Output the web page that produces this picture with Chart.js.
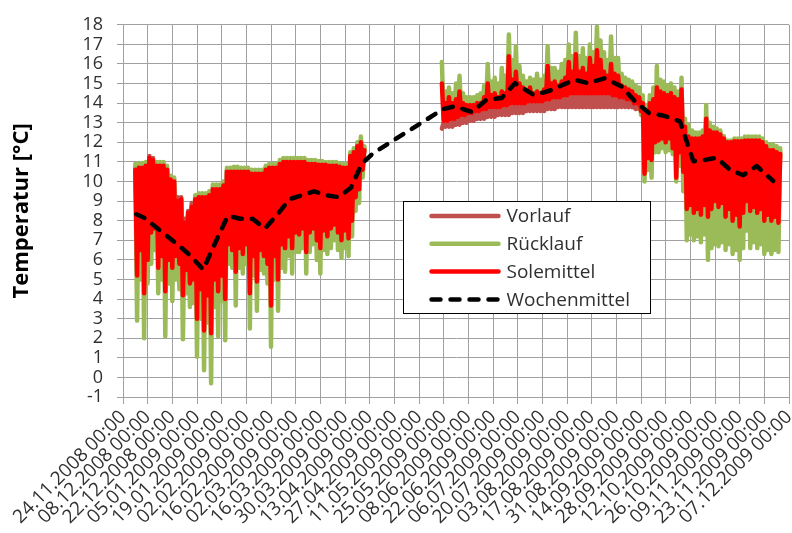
<!DOCTYPE html>
<html>
<head>
<meta charset="utf-8">
<script src="https://cdn.jsdelivr.net/npm/chart.js@4.4.1/dist/chart.umd.min.js"></script>
<style>
  html, body { margin: 0; padding: 0; background: #ffffff; }
  canvas { display: block; }
</style>
</head>
<body>
<canvas id="chart" width="792" height="533"></canvas>
<script>
// Zeitachse: Tag 0 = 24.11.2008 00:00, Achsenteilung alle 14 Tage
const startDatum = Date.UTC(2008, 10, 24);
const achseMaxTag = 378;
const tickAbstandTage = 14;

// Tageswerte (Hoch / Tief im Wechsel)
const schrittTage = 1;
const winterStartTag = 7;    // 01.12.2008
const sommerStartTag = 181;  // 24.05.2009
const lueckeTag = 159;       // keine Messdaten April/Mai 2009

// Heizperiode 2008/09 (Tag 7 bis 137)
const vorlaufWinter = [
  10.7, 7.0, 10.8, 8.0, 10.8, 6.4, 10.9, 7.7, 11.3, 8.8,
  11.2, 8.8, 10.9, 7.2, 10.9, 7.7, 10.9, 6.5, 10.7, 7.5,
  10.2, 7.2, 10.1, 7.6, 9.2, 7.3, 9.2, 6.3, 8.1, 6.9,
  8.5, 6.3, 8.9, 6.5, 9.2, 4.9, 9.3, 6.0, 9.3, 4.4,
  9.3, 5.8, 9.4, 4.7, 9.7, 6.6, 9.7, 6.4, 9.7, 6.7,
  9.9, 6.0, 10.6, 8.0, 10.6, 7.7, 10.6, 7.1, 10.6, 7.8,
  10.6, 7.5, 10.6, 8.0, 10.6, 6.1, 10.5, 7.4, 10.5, 6.4,
  10.5, 7.7, 10.5, 7.4, 10.7, 7.1, 10.8, 5.8, 10.8, 7.4,
  10.8, 6.6, 11.0, 8.0, 11.1, 7.8, 11.1, 8.3, 11.1, 7.9,
  11.1, 8.5, 11.1, 8.2, 11.1, 8.6, 11.1, 7.5, 11.0, 8.4,
  11.0, 8.4, 11.0, 8.0, 10.9, 7.9, 10.9, 8.5, 10.9, 8.1,
  10.9, 8.6, 10.9, 8.6, 10.9, 8.3, 10.8, 7.9, 10.8, 8.4,
  10.8, 8.0, 11.4, 8.8, 11.6, 9.9, 11.9, 10.3, 12.1, 11.0,
  11.7
];
const ruecklaufWinter = [
  10.9, 2.9, 10.95, 5.0, 10.95, 2.0, 11.0, 4.8, 10.6, 5.8,
  10.9, 6.5, 11.0, 4.3, 11.0, 5.0, 11.0, 2.1, 10.8, 4.8,
  10.3, 3.9, 10.2, 5.0, 8.9, 4.5, 9.0, 1.95, 7.7, 4.3,
  8.3, 3.6, 8.5, 3.8, 9.3, 1.05, 9.4, 3.0, 9.4, 0.37,
  9.4, 2.8, 9.5, -0.3, 9.85, 3.6, 9.85, 2.1, 9.85, 3.9,
  10.0, 1.9, 10.7, 5.8, 10.7, 5.6, 10.75, 3.67, 10.75, 5.6,
  10.7, 5.3, 10.7, 5.8, 10.7, 2.5, 10.6, 5.2, 10.6, 3.4,
  10.6, 5.5, 10.6, 5.3, 10.8, 4.8, 10.9, 1.56, 10.9, 5.0,
  10.9, 3.4, 11.1, 5.6, 11.2, 5.4, 11.2, 6.2, 11.2, 5.3,
  11.2, 6.4, 11.2, 6.4, 11.2, 6.6, 11.2, 5.3, 11.1, 6.4,
  11.1, 6.8, 11.1, 6.0, 11.05, 5.3, 11.05, 6.5, 11.0, 6.3,
  11.0, 6.6, 11.0, 7.0, 11.0, 6.5, 10.95, 6.1, 10.9, 6.6,
  10.9, 6.2, 11.5, 7.2, 11.7, 8.5, 12.0, 8.9, 12.3, 10.2,
  11.8
];
const solemittelWinter = [
  10.6, 5.2, 10.7, 6.5, 10.7, 4.3, 10.8, 6.0, 11.2, 7.4,
  11.1, 7.6, 10.8, 5.6, 10.8, 6.2, 10.8, 4.4, 10.6, 6.0,
  10.1, 5.6, 10.0, 6.2, 9.0, 5.8, 9.1, 4.2, 7.9, 5.5,
  8.4, 4.8, 8.7, 5.0, 9.1, 3.0, 9.2, 4.5, 9.2, 2.4,
  9.2, 4.2, 9.3, 2.25, 9.6, 5.0, 9.6, 4.4, 9.6, 5.2,
  9.8, 4.0, 10.5, 6.8, 10.5, 6.5, 10.5, 5.4, 10.5, 6.6,
  10.5, 6.3, 10.5, 6.8, 10.5, 4.3, 10.4, 6.2, 10.4, 4.9,
  10.4, 6.5, 10.4, 6.2, 10.6, 5.8, 10.7, 3.67, 10.7, 6.2,
  10.7, 5.0, 10.9, 6.8, 11.0, 6.6, 11.0, 7.2, 11.0, 6.6,
  11.0, 7.4, 11.0, 7.3, 11.0, 7.6, 11.0, 6.4, 10.9, 7.4,
  10.9, 7.6, 10.9, 7.0, 10.85, 6.6, 10.85, 7.5, 10.85, 7.2,
  10.8, 7.6, 10.8, 7.8, 10.8, 7.4, 10.75, 7.0, 10.7, 7.5,
  10.7, 7.1, 11.3, 8.0, 11.5, 9.2, 11.8, 9.6, 12.0, 10.6,
  11.6
];

// Sommer 2009 und Beginn der Heizperiode 2009/10 (Tag 181 bis 373)
const vorlaufSommer = [
  12.7, 13.0, 12.8, 13.0, 12.8, 13.1, 12.8, 13.1, 12.9, 13.2,
  12.9, 13.3, 13.0, 13.3, 13.0, 13.4, 13.1, 13.4, 13.1, 13.5,
  13.2, 13.5, 13.2, 13.6, 13.2, 13.6, 13.3, 13.7, 13.3, 13.7,
  13.3, 13.7, 13.4, 13.7, 13.4, 13.8, 13.4, 13.8, 13.4, 13.9,
  13.5, 13.9, 13.5, 13.9, 13.5, 13.9, 13.5, 13.9, 13.6, 14.0,
  13.6, 14.0, 13.6, 14.0, 13.6, 14.0, 13.6, 14.0, 13.6, 14.1,
  13.7, 14.1, 13.7, 14.2, 13.7, 14.2, 13.8, 14.2, 13.8, 14.3,
  13.8, 14.3, 13.8, 14.4, 13.8, 14.4, 13.8, 14.4, 13.8, 14.4,
  13.8, 14.4, 13.8, 14.4, 13.8, 14.4, 13.8, 14.4, 13.8, 14.4,
  13.8, 14.4, 13.8, 14.4, 13.8, 14.4, 13.8, 14.3, 13.8, 14.3,
  13.8, 14.2, 13.8, 14.2, 13.8, 14.1, 13.8, 14.1, 13.8, 13.9,
  13.7, 13.9, 13.7, 13.8, 14.1, 11.5, 13.6, 12.2, 14.1, 12.0,
  14.3, 12.8, 14.9, 12.9, 14.7, 13.0, 14.6, 12.8, 14.5, 13.0,
  14.6, 12.5, 14.4, 11.0, 14.3, 12.3, 14.8, 11.5, 12.9, 10.0,
  12.4, 10.2, 12.3, 9.8, 12.3, 10.0, 12.3, 9.7, 12.4, 10.2,
  13.3, 10.0, 12.7, 10.1, 12.6, 10.4, 12.6, 10.2, 12.5, 10.3,
  12.3, 9.8, 12.05, 10.1, 12.05, 9.6, 12.1, 9.8, 12.1, 9.4,
  12.1, 9.9, 12.15, 10.3, 12.15, 10.1, 12.15, 10.2, 12.15, 10.0,
  12.15, 10.1, 12.1, 9.7, 11.9, 9.9, 11.7, 9.7, 11.7, 9.8,
  11.6, 9.6, 11.5
];
const ruecklaufSommer = [
  16.1, 13.2, 14.6, 13.2, 14.8, 13.3, 14.5, 13.3, 15.0, 13.4,
  15.4, 13.5, 14.5, 13.5, 14.3, 13.6, 14.3, 13.6, 14.3, 13.7,
  14.4, 13.7, 14.5, 13.8, 14.9, 13.8, 16.0, 13.9, 15.1, 13.9,
  15.3, 13.9, 15.0, 13.9, 15.8, 14.0, 15.4, 14.0, 17.5, 14.1,
  16.2, 14.1, 16.9, 14.1, 15.9, 14.1, 15.4, 14.1, 15.1, 14.2,
  15.3, 14.2, 15.2, 14.2, 15.5, 14.2, 15.2, 14.2, 15.4, 14.3,
  16.9, 14.3, 15.8, 14.4, 15.8, 14.4, 15.6, 14.4, 16.0, 14.5,
  16.2, 14.5, 17.0, 14.6, 16.4, 14.6, 17.6, 14.6, 16.4, 14.6,
  16.8, 14.6, 16.3, 14.6, 17.0, 14.6, 16.6, 14.6, 17.9, 14.6,
  17.2, 14.6, 16.6, 14.6, 16.2, 14.6, 17.4, 14.5, 16.3, 14.5,
  16.3, 14.4, 15.5, 14.4, 15.3, 14.3, 15.2, 14.3, 15.1, 14.1,
  14.9, 14.1, 14.8, 13.4, 14.4, 10.0, 13.9, 10.6, 14.4, 10.2,
  14.8, 11.5, 15.9, 11.5, 15.2, 11.7, 15.1, 11.5, 14.9, 11.6,
  15.0, 11.4, 14.8, 10.0, 14.6, 10.8, 15.3, 9.5, 13.2, 7.0,
  12.9, 7.3, 12.6, 7.0, 12.5, 7.2, 12.5, 6.9, 12.6, 7.3,
  13.9, 6.0, 13.0, 6.6, 12.8, 6.8, 12.7, 6.7, 12.6, 6.9,
  12.3, 6.5, 12.1, 6.8, 12.1, 6.3, 12.2, 6.5, 12.2, 6.0,
  12.2, 6.6, 12.3, 7.5, 12.3, 6.6, 12.3, 6.9, 12.3, 6.6,
  12.3, 6.8, 12.2, 6.3, 12.0, 6.5, 11.9, 6.3, 11.9, 6.5,
  11.8, 6.4, 11.7
];
const solemittelSommer = [
  15.0, 13.1, 14.0, 13.1, 14.3, 13.2, 14.0, 13.2, 14.2, 13.3,
  14.6, 13.4, 14.0, 13.4, 13.9, 13.5, 13.9, 13.5, 13.9, 13.6,
  14.0, 13.6, 14.0, 13.7, 14.3, 13.7, 15.0, 13.8, 14.4, 13.8,
  14.5, 13.8, 14.3, 13.8, 14.6, 13.9, 14.5, 13.9, 16.4, 14.0,
  15.2, 14.0, 15.6, 14.0, 15.0, 14.0, 14.8, 14.0, 14.6, 14.1,
  14.8, 14.1, 14.5, 14.1, 14.6, 14.1, 14.5, 14.1, 14.7, 14.2,
  15.9, 14.2, 15.0, 14.3, 15.1, 14.3, 14.9, 14.3, 15.1, 14.4,
  15.3, 14.4, 16.1, 14.5, 15.6, 14.5, 16.5, 14.5, 15.6, 14.5,
  15.8, 14.5, 15.5, 14.5, 16.3, 14.5, 15.9, 14.5, 16.7, 14.5,
  16.2, 14.5, 15.6, 14.5, 15.4, 14.5, 16.0, 14.4, 15.5, 14.4,
  15.4, 14.3, 14.9, 14.3, 14.8, 14.2, 14.7, 14.2, 14.6, 14.0,
  14.4, 14.0, 14.3, 13.6, 14.0, 10.4, 13.5, 11.2, 14.0, 11.1,
  14.2, 12.0, 14.8, 12.1, 14.6, 12.2, 14.5, 12.0, 14.4, 12.2,
  14.5, 11.7, 14.3, 10.2, 14.2, 11.5, 14.7, 10.5, 12.8, 8.6,
  12.3, 8.8, 12.2, 8.4, 12.2, 8.6, 12.2, 8.3, 12.3, 8.8,
  13.2, 8.2, 12.6, 8.6, 12.5, 9.0, 12.5, 8.7, 12.4, 8.9,
  12.2, 8.2, 12.0, 8.6, 12.0, 8.0, 12.05, 8.3, 12.05, 7.7,
  12.05, 8.4, 12.1, 9.0, 12.1, 8.5, 12.1, 8.7, 12.1, 8.4,
  12.1, 8.6, 12.0, 8.0, 11.8, 8.3, 11.6, 8.0, 11.6, 8.2,
  11.5, 7.9, 11.4
];

// Wochenmittel der Soletemperatur
const wocheTage = [7.5, 12, 17.5, 24.5, 31.5, 38.5, 45.5, 52.5, 59.5, 66.5, 73.5, 80.5, 87.5, 94.5, 101.5, 108.5, 115.5, 122.5, 129.5, 135.5, 142, 181.8, 188.4, 197.9, 206.4, 214.9, 222.5, 232.9, 239, 244.2, 250, 256.5, 264.1, 273.5, 283, 290.6, 298.5, 306.6, 316.1, 323.7, 329.3, 337, 344.5, 352, 359.6, 369];
const wocheWerte = [8.33, 8.15, 7.75, 7.25, 6.75, 6.2, 5.5, 6.9, 8.25, 8.1, 8.1, 7.6, 8.3, 9.1, 9.3, 9.5, 9.3, 9.2, 9.7, 10.9, 11.45, 13.7, 13.84, 13.55, 14.18, 14.26, 15.02, 14.43, 14.55, 14.7, 14.95, 15.19, 15.02, 15.27, 14.85, 14.09, 13.5, 13.37, 13.07, 11.04, 11.09, 11.21, 10.6, 10.32, 10.79, 10.03];

const SCHRIFT = "'Open Sans', 'DejaVu Sans', sans-serif";
const GITTER = '#a0a0a0';
const TEXTFARBE = '#303030';

function punkte(startTag, werte) {
  return werte.map((v, i) => ({ x: startTag + i * schrittTage, y: v }));
}
function reihe(winter, sommer) {
  return punkte(winterStartTag, winter)
    .concat([{ x: lueckeTag, y: null }])
    .concat(punkte(sommerStartTag, sommer));
}
function zwei(n) { return (n < 10 ? '0' : '') + n; }
function datumText(tag) {
  const d = new Date(startDatum + Math.round(tag) * 86400000);
  return zwei(d.getUTCDate()) + '.' + zwei(d.getUTCMonth() + 1) + '.' + d.getUTCFullYear() + ' 00:00';
}

// Legende im Diagrammfeld mit Rahmen
const legendePlugin = {
  id: 'legendeImFeld',
  afterDraw(chart) {
    const { ctx, chartArea: a } = chart;
    const w = a.right - a.left, h = a.bottom - a.top;
    const bx = Math.round(a.left + 0.4204 * w) + 0.5;
    const by = Math.round(a.top + 0.4733 * h) + 0.5;
    const bw = Math.round(0.3709 * w);
    const bh = Math.round(0.3021 * h);
    ctx.save();
    ctx.fillStyle = '#ffffff';
    ctx.fillRect(bx, by, bw, bh);
    ctx.strokeStyle = '#000000';
    ctx.lineWidth = 1;
    ctx.strokeRect(bx, by, bw, bh);
    ctx.font = '19px ' + SCHRIFT;
    ctx.textBaseline = 'middle';
    ctx.textAlign = 'left';
    chart.data.datasets.forEach((ds, i) => {
      const y = by + 14.5 + i * 27.8;
      ctx.beginPath();
      ctx.setLineDash(ds.borderDash || []);
      ctx.lineCap = 'round';
      ctx.strokeStyle = ds.borderColor;
      ctx.lineWidth = ds.borderWidth;
      ctx.moveTo(bx + 28, y);
      ctx.lineTo(bx + 95, y);
      ctx.stroke();
      ctx.setLineDash([]);
      ctx.fillStyle = TEXTFARBE;
      ctx.fillText(ds.label, bx + 103, y + 1);
    });
    ctx.restore();
  }
};

new Chart(document.getElementById('chart'), {
  type: 'line',
  data: {
    datasets: [
      { label: 'Vorlauf', data: reihe(vorlaufWinter, vorlaufSommer), borderColor: '#C0504D', borderWidth: 4.5, order: 3 },
      { label: 'Rücklauf', data: reihe(ruecklaufWinter, ruecklaufSommer), borderColor: '#9BBB59', borderWidth: 4.5, order: 2 },
      { label: 'Solemittel', data: reihe(solemittelWinter, solemittelSommer), borderColor: '#FF0000', borderWidth: 4.5, order: 1 },
      { label: 'Wochenmittel', data: wocheTage.map((t, i) => ({ x: t, y: wocheWerte[i] })), borderColor: '#000000', borderWidth: 4.5, borderDash: [9, 10], order: 0 }
    ]
  },
  options: {
    responsive: false,
    animation: false,
    devicePixelRatio: 1,
    spanGaps: false,
    layout: { padding: { top: 23, right: 3, left: 0, bottom: 0 }, autoPadding: false },
    elements: {
      point: { radius: 0, hoverRadius: 0 },
      line: { tension: 0, borderJoinStyle: 'round', borderCapStyle: 'round', fill: false }
    },
    plugins: { legend: { display: false }, tooltip: { enabled: false } },
    scales: {
      x: {
        type: 'linear',
        min: 0,
        max: achseMaxTag,
        afterFit(s) { s.height = 136; s.paddingLeft = 0; s.paddingRight = 0; },
        ticks: {
          stepSize: tickAbstandTage,
          autoSkip: false,
          maxRotation: 45,
          minRotation: 45,
          padding: 2,
          color: TEXTFARBE,
          font: { family: SCHRIFT, size: 19 },
          callback: (v) => datumText(v)
        },
        grid: { color: GITTER, lineWidth: 1, tickLength: 7 },
        border: { color: GITTER }
      },
      y: {
        min: -1,
        max: 18,
        afterFit(s) { s.width = 123; },
        ticks: {
          stepSize: 1,
          autoSkip: false,
          padding: 14,
          color: TEXTFARBE,
          font: { family: SCHRIFT, size: 18 }
        },
        grid: { color: GITTER, lineWidth: 1, tickLength: 6 },
        border: { color: GITTER },
        title: {
          display: true,
          text: 'Temperatur [°C]',
          color: '#000000',
          font: { family: SCHRIFT, size: 22, weight: 'bold' },
          padding: { top: 9, bottom: 0 }
        }
      }
    }
  },
  plugins: [legendePlugin]
});
</script>
</body>
</html>
